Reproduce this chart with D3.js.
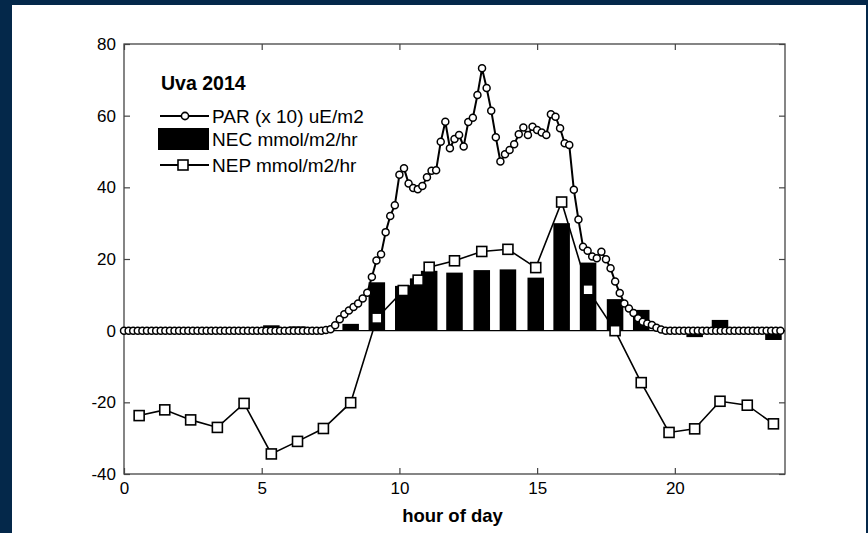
<!DOCTYPE html>
<html>
<head>
<meta charset="utf-8">
<script src="https://cdn.jsdelivr.net/npm/d3@7"></script>
<style>
  html, body { margin: 0; padding: 0; background: #04284a; }
  svg { display: block; }
  text { font-family: Arial, "Liberation Sans", Helvetica, sans-serif; fill: #000; }
</style>
</head>
<body>
<script>
(function() {

  /* NEP and NEC are hourly samples (same times) */
  const nepHours = [0.55, 1.48, 2.42, 3.39, 4.36, 5.35, 6.30, 7.24, 8.23, 9.18, 10.14, 10.68, 11.08,
                    12.00, 12.99, 13.94, 14.95, 15.89, 16.85, 17.83, 18.78, 19.79, 20.72, 21.64, 22.63, 23.58];
  const nepValues = [-23.7, -22.1, -24.9, -27.0, -20.3, -34.4, -30.9, -27.3, -20.1, 3.5, 11.2, 14.1, 17.7,
                     19.5, 22.1, 22.7, 17.6, 35.9, 11.4, 0.0, -14.5, -28.4, -27.4, -19.7, -20.8, -26.0];
  const necValues = [0.3, -0.3, 0.4, 0.6, -0.4, 1.5, 1.2, 0.3, 1.9, 13.5, 12.5, 14.6, 16.7,
                     16.2, 16.9, 17.1, 14.8, 30.0, 19.0, 8.8, 5.8, -0.6, -1.8, 3.0, -0.5, -2.6];

  /* PAR (x 10), 10 minute readings, one row per hour */
  const parStep = 1 / 6;
  const parRows = [
    [0, 0, 0, 0, 0, 0], [0, 0, 0, 0, 0, 0], [0, 0, 0, 0, 0, 0], [0, 0, 0, 0, 0, 0],
    [0, 0, 0, 0, 0, 0], [0, 0, 0, 0, 0, 0], [0, 0, 0, 0, 0, 0],
    [0, 0, 0.2, 0.4, 1.5, 3.2],
    [4.6, 5.6, 6.6, 7.6, 9.0, 10.6],
    [15.0, 19.6, 21.3, 27.5, 32.0, 35.0],
    [43.5, 45.3, 41.1, 39.8, 39.5, 40.4],
    [42.8, 44.6, 44.8, 52.7, 58.3, 50.9],
    [53.5, 54.6, 51.4, 58.2, 59.4, 65.8],
    [73.2, 67.7, 61.4, 54.0, 47.2, 49.2],
    [50.4, 52.0, 54.8, 56.7, 54.6, 56.9],
    [56.0, 55.3, 54.6, 60.4, 59.7, 56.5],
    [52.3, 51.8, 39.3, 31.0, 23.4, 22.3],
    [20.7, 20.2, 22.0, 19.9, 17.4, 13.7],
    [10.5, 7.6, 6.2, 4.9, 3.5, 2.5],
    [2.0, 1.6, 0.8, 0.3, 0, 0],
    [0, 0, 0, 0, 0, 0], [0, 0, 0, 0, 0, 0], [0, 0, 0, 0, 0, 0], [0, 0, 0, 0, 0, 0]
  ];

  const xTicks = [0, 5, 10, 15, 20];
  const yTicks = [-40, -20, 0, 20, 40, 60, 80];
  const legendLabels = ["PAR (x 10) uE/m2", "NEC mmol/m2/hr", "NEP mmol/m2/hr"];

  const W = 868, H = 533;
  const plot = {left: 124, right: 785, top: 44, bottom: 474};
  const barWidthHours = 0.6;

  const par = [].concat(...parRows).map(function(v, i) { return {h: i * parStep, v: v}; });
  const nep = nepHours.map(function(h, i) { return {h: h, v: nepValues[i], c: necValues[i]}; });

  const x = d3.scaleLinear().domain([0, 24]).range([plot.left, plot.right]);
  const y = d3.scaleLinear().domain([-40, 80]).range([plot.bottom, plot.top]);

  const svg = d3.select("body").append("svg")
      .attr("width", W)
      .attr("height", H);

  // white figure panel
  svg.append("rect")
      .attr("x", 12).attr("y", 5)
      .attr("width", 854).attr("height", H - 5)
      .attr("fill", "#fff");

  /*  A X E S  */
  const tick = 6;
  const plain = function(d) { return String(d); };  // matlab style hyphen minus
  const bottomAxis = svg.append("g")
      .attr("transform", "translate(0," + plot.bottom + ")")
      .call(d3.axisBottom(x).tickValues(xTicks).tickSize(-tick).tickPadding(8).tickFormat(plain));
  const topAxis = svg.append("g")
      .attr("transform", "translate(0," + plot.top + ")")
      .call(d3.axisTop(x).tickValues(xTicks).tickSize(-tick).tickFormat(""));
  const leftAxis = svg.append("g")
      .attr("transform", "translate(" + plot.left + ",0)")
      .call(d3.axisLeft(y).tickValues(yTicks).tickSize(-tick).tickPadding(8).tickFormat(plain));
  const rightAxis = svg.append("g")
      .attr("transform", "translate(" + plot.right + ",0)")
      .call(d3.axisRight(y).tickValues(yTicks).tickSize(-tick).tickFormat(""));

  [bottomAxis, topAxis, leftAxis, rightAxis].forEach(function(a) {
    a.select(".domain").remove();
    a.selectAll(".tick line").attr("stroke", "#444").attr("stroke-width", 1.2);
    a.selectAll(".tick text")
        .attr("font-size", 17)
        .attr("fill", "#222")
        .style("font-family", "Arial, 'Liberation Sans', sans-serif");
  });

  svg.append("rect")
      .attr("x", plot.left).attr("y", plot.top)
      .attr("width", plot.right - plot.left)
      .attr("height", plot.bottom - plot.top)
      .attr("fill", "none")
      .attr("stroke", "#444")
      .attr("stroke-width", 1.3);

  svg.append("text")
      .attr("x", (plot.left + plot.right) / 2 - 2).attr("y", 522)
      .attr("text-anchor", "middle")
      .attr("font-size", 18.5)
      .attr("font-weight", "bold")
      .text("hour of day");

  /*  N E C   B A R S  */
  const bw = x(barWidthHours) - x(0);
  svg.append("g").selectAll("rect")
      .data(nep)
    .enter().append("rect")
      .attr("x", function(d) { return x(d.h) - bw / 2; })
      .attr("y", function(d) { return y(Math.max(d.c, 0)); })
      .attr("width", bw)
      .attr("height", function(d) { return Math.abs(y(d.c) - y(0)); })
      .attr("fill", "#000");

  // bar baseline
  svg.append("line")
      .attr("x1", plot.left).attr("x2", plot.right)
      .attr("y1", y(0)).attr("y2", y(0))
      .attr("stroke", "#000").attr("stroke-width", 1.3);

  /*  P A R  */
  const line = d3.line()
      .x(function(d) { return x(d.h); })
      .y(function(d) { return y(d.v); });

  svg.append("path")
      .datum(par)
      .attr("d", line)
      .attr("fill", "none")
      .attr("stroke", "#000")
      .attr("stroke-width", 2);

  svg.append("g").selectAll("circle")
      .data(par)
    .enter().append("circle")
      .attr("cx", function(d) { return x(d.h); })
      .attr("cy", function(d) { return y(d.v); })
      .attr("r", 3.5)
      .attr("fill", "#fff")
      .attr("stroke", "#000")
      .attr("stroke-width", 1.5);

  /*  N E P  */
  svg.append("path")
      .datum(nep)
      .attr("d", line)
      .attr("fill", "none")
      .attr("stroke", "#000")
      .attr("stroke-width", 1.6);

  const sq = 10;
  svg.append("g").selectAll("rect")
      .data(nep)
    .enter().append("rect")
      .attr("x", function(d) { return x(d.h) - sq / 2; })
      .attr("y", function(d) { return y(d.v) - sq / 2; })
      .attr("width", sq)
      .attr("height", sq)
      .attr("fill", "#fff")
      .attr("stroke", "#000")
      .attr("stroke-width", 1.6);

  /*  L E G E N D  */
  const lg = svg.append("g");
  lg.append("text")
      .attr("x", 161).attr("y", 90)
      .attr("font-size", 19.5)
      .attr("font-weight", "bold")
      .text("Uva 2014");

  const rows = [116, 139, 165];
  // PAR sample
  lg.append("line").attr("x1", 160).attr("x2", 209).attr("y1", rows[0]).attr("y2", rows[0])
      .attr("stroke", "#000").attr("stroke-width", 2);
  lg.append("circle").attr("cx", 185).attr("cy", rows[0]).attr("r", 3.6)
      .attr("fill", "#fff").attr("stroke", "#000").attr("stroke-width", 1.6);
  // NEC sample
  lg.append("rect").attr("x", 158).attr("y", rows[1] - 11).attr("width", 51).attr("height", 22)
      .attr("fill", "#000");
  // NEP sample
  lg.append("line").attr("x1", 160).attr("x2", 209).attr("y1", rows[2]).attr("y2", rows[2])
      .attr("stroke", "#000").attr("stroke-width", 2);
  lg.append("rect").attr("x", 183 - sq / 2).attr("y", rows[2] - sq / 2).attr("width", sq).attr("height", sq)
      .attr("fill", "#fff").attr("stroke", "#000").attr("stroke-width", 1.6);

  lg.selectAll(".lbl")
      .data(legendLabels)
    .enter().append("text")
      .attr("class", "lbl")
      .attr("x", 212)
      .attr("y", function(d, i) { return rows[i]; })
      .attr("dy", "0.36em")
      .attr("font-size", 19)
      .attr("fill", "#222")
      .text(function(d) { return d; });

})();
</script>
</body>
</html>
